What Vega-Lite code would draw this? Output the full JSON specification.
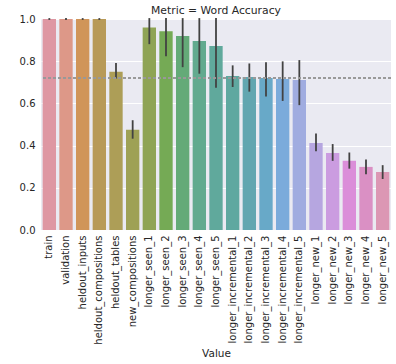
{
  "$schema": "https://vega.github.io/schema/vega-lite/v6.json",
  "width": 350,
  "height": 211,
  "autosize": {"type": "none"},
  "padding": {"left": 41, "top": 19, "right": 5, "bottom": 134},
  "background": "white",
  "config": {
    "view": {"fill": "#eaeaf2", "stroke": null},
    "font": "DejaVu Sans",
    "axis": {
      "labelFont": "DejaVu Sans",
      "titleFont": "DejaVu Sans",
      "labelColor": "#262626",
      "titleColor": "#262626",
      "labelFontSize": 10,
      "titleFontSize": 10.5,
      "titleFontWeight": "normal",
      "ticks": false,
      "domain": false,
      "gridColor": "white",
      "gridWidth": 1,
      "gridOpacity": 1
    }
  },
  "title": {
    "text": "Metric = Word Accuracy",
    "font": "DejaVu Sans",
    "fontSize": 10.8,
    "fontWeight": "normal",
    "color": "#262626",
    "frame": "group",
    "offset": -2
  },
  "data": {
    "values": [
      {"Value": "train", "score": 1.0, "lo": 1.0, "hi": 1.0},
      {"Value": "validation", "score": 1.0, "lo": 1.0, "hi": 1.0},
      {"Value": "heldout_inputs", "score": 1.0, "lo": 1.0, "hi": 1.0},
      {"Value": "heldout_compositions", "score": 1.0, "lo": 1.0, "hi": 1.0},
      {"Value": "heldout_tables", "score": 0.75, "lo": 0.722, "hi": 0.787},
      {"Value": "new_compositions", "score": 0.475, "lo": 0.437, "hi": 0.516},
      {"Value": "longer_seen_1", "score": 0.96, "lo": 0.885, "hi": 1.0},
      {"Value": "longer_seen_2", "score": 0.942, "lo": 0.828, "hi": 1.0},
      {"Value": "longer_seen_3", "score": 0.919, "lo": 0.776, "hi": 1.0},
      {"Value": "longer_seen_4", "score": 0.896, "lo": 0.745, "hi": 1.0},
      {"Value": "longer_seen_5", "score": 0.872, "lo": 0.679, "hi": 1.0},
      {"Value": "longer_incremental_1", "score": 0.73, "lo": 0.682, "hi": 0.776},
      {"Value": "longer_incremental_2", "score": 0.725, "lo": 0.66, "hi": 0.785},
      {"Value": "longer_incremental_3", "score": 0.72, "lo": 0.637, "hi": 0.791},
      {"Value": "longer_incremental_4", "score": 0.716, "lo": 0.616, "hi": 0.795},
      {"Value": "longer_incremental_5", "score": 0.711, "lo": 0.596, "hi": 0.801},
      {"Value": "longer_new_1", "score": 0.412, "lo": 0.378, "hi": 0.453},
      {"Value": "longer_new_2", "score": 0.365, "lo": 0.332, "hi": 0.403},
      {"Value": "longer_new_3", "score": 0.328, "lo": 0.295, "hi": 0.363},
      {"Value": "longer_new_4", "score": 0.299, "lo": 0.269, "hi": 0.33},
      {"Value": "longer_new_5", "score": 0.275, "lo": 0.246, "hi": 0.303}
    ]
  },
  "encoding": {
    "x": {
      "field": "Value",
      "type": "nominal",
      "sort": null,
      "scale": {"paddingInner": 0.2, "paddingOuter": 0.1},
      "axis": {"labelAngle": -90, "labelPadding": 5, "titlePadding": 4, "grid": false, "title": "Value"}
    }
  },
  "layer": [
    {
      "mark": {"type": "bar"},
      "encoding": {
        "y": {
          "field": "score",
          "type": "quantitative",
          "scale": {"domain": [0, 1]},
          "axis": {"title": null, "values": [0, 0.2, 0.4, 0.6, 0.8, 1.0], "format": ".1f", "labelPadding": 6}
        },
        "color": {
          "field": "Value",
          "type": "nominal",
          "sort": null,
          "legend": null,
          "scale": {
            "range": [
              "#de97a3", "#dd9888", "#d09559", "#b89a58", "#ad9e57", "#9ea155", "#8fa455",
              "#75aa55", "#64aa78", "#62aa8f", "#60a99c", "#5fa8a0", "#62a6b0", "#68a9c8",
              "#7babdb", "#a0ace0", "#b6a6e0", "#cb9ce0", "#db8ed9", "#da90c4", "#dc97b4"
            ]
          }
        }
      }
    },
    {
      "mark": {"type": "rule", "color": "#424242", "strokeWidth": 1.8, "strokeCap": "square"},
      "encoding": {
        "y": {"field": "lo", "type": "quantitative"},
        "y2": {"field": "hi"}
      }
    },
    {
      "mark": {"type": "rule", "color": "#9a9a9a", "strokeWidth": 1, "strokeDash": [3, 2]},
      "encoding": {"y": {"datum": 0.72}, "x": null}
    }
  ]
}
